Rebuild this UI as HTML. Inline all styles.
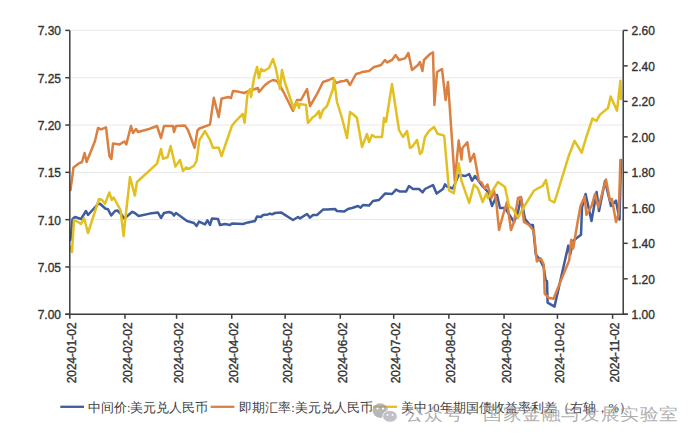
<!DOCTYPE html>
<html><head><meta charset="utf-8"><style>
html,body{margin:0;padding:0;background:#fff;width:700px;height:442px;overflow:hidden}
svg{display:block}
.t{font-family:"Liberation Sans",sans-serif;font-size:12px;fill:#333333;stroke:#333333;stroke-width:0.35}
.d{font-family:"Liberation Sans",sans-serif;font-size:11.9px;fill:#333333;stroke:#333333;stroke-width:0.35}
.lg{font-family:"Liberation Serif",serif;font-size:12.5px;fill:#404040}
.wm{font-family:"Liberation Sans",sans-serif;font-size:17px;fill:#a0a0a0;fill-opacity:0.85}
</style></head><body>
<svg width="700" height="442" viewBox="0 0 700 442">
<line x1="69.8" y1="266.98" x2="623.2" y2="266.98" stroke="#E8E8E8" stroke-width="1"/>
<line x1="69.8" y1="219.67" x2="623.2" y2="219.67" stroke="#E8E8E8" stroke-width="1"/>
<line x1="69.8" y1="172.35" x2="623.2" y2="172.35" stroke="#E8E8E8" stroke-width="1"/>
<line x1="69.8" y1="125.03" x2="623.2" y2="125.03" stroke="#E8E8E8" stroke-width="1"/>
<line x1="69.8" y1="77.72" x2="623.2" y2="77.72" stroke="#E8E8E8" stroke-width="1"/>
<line x1="69.8" y1="30.40" x2="623.2" y2="30.40" stroke="#E8E8E8" stroke-width="1"/>
<polyline points="70.5,240 72.5,219 75,217 81,219 86,211 88,215 98,204 100,203.7 105.6,208.7 108,209.3 111.2,215.5 115,211 117.4,210.5 121,214 124.3,218.6 132.3,211.8 134.8,213 138.6,216 149.7,213.6 158,212.6 161,218 164,213 169,212 172,213 174,215.6 176,213 187,221 194,223 196.6,226 199,221.6 205,224.4 207.4,220.4 210,225 212,218.4 218,219 220,225 225,224 230,225 232,223.6 243,224 248,222.4 255,221 257,216.4 261,217 263,215 268,214.4 270,213.6 272,214.4 275,213 281,212.4 293,220 298,217 300,218.4 307,214 310,217.6 313,215 317,215 323,209.6 327,209.4 335,209 337,211 344,211.6 348,209 352,208 358,206 360.6,207.6 363,205 369,205.6 373,201 379,200 385,193.6 392,194 396,189.6 400,191.6 406,191.6 409,186 413,189 419,189 422.6,192.4 425,189 433,185 436.6,193.6 443,189 445,184.4 447,186.5 452.9,188.5 458.7,175 465.4,176 469.2,174 472,180.8 475,176 482.7,186.5 488,192 492,206 497,195 500,208 505,208 514,222 518,212 521,198 525,219 530,225 532.9,225 535.8,254.5 539.7,259.4 543.7,267.3 545.6,280 547,281 547.6,302.7 554.5,306.6 568.3,245.6 570.2,254.5 573.2,240.7 581,234.8 582,207.5 585.6,194 591.5,221 596.6,192 599,211 605,181 611,206 616,200.7 619.5,219.4 621,160" fill="none" stroke="#3F5C9C" stroke-width="2.5" stroke-linejoin="round" stroke-linecap="round"/>
<polyline points="70.5,190 73.5,167.4 78.4,163.7 82,162 84.6,153 86.6,162 95,141 98,128 101,129.4 106,127.4 109.4,156 111.4,159 113,143.5 119.6,144.4 124.4,141.5 126.3,144.4 131,126 133,133 136,129 138,132 149,129 157,126 161,138 164,126 173,126 174,132 176,126 185,125.6 188,130 194.6,147.7 197.5,130.4 199.4,128.5 210,124.6 213.8,97.7 218.7,117 221.5,98.7 228,97 231,98 233,91 238,91.6 244,93 249,91 255,89 258,88 259,92 265,85 269,82 273,80 277,81 283,91 293,111 297,100 301,100 307,89 310,106 313,101 317,94 323,82 329,80 333,78 336,83 340,81.6 344,81 347,80 350,85 356,74 360,73 362,72 369,71 374,67 378,66 381,65 385,60 387,62.4 392,60 395.6,55 399,60 405,58.4 408.4,53 412,70 418,65 420,62 422.4,71 424,60 430,54 433,52.4 434.4,105 437,72 442,69 445.6,100 448,82 454.8,180.8 458.7,140.4 461.5,159.6 462.5,148 467.3,142.3 470.2,161.5 474,153.8 478.8,180.8 481.7,182.7 484.6,188.5 487.5,184.6 491.3,198 494,191 496,199 499,230 503,215 507,202 511,230 514,222 518,198 521,197 524,222 529,225 533.8,231 536.8,261.4 540.7,258.4 543.7,264.3 544.7,293.8 548.6,297.7 553.5,298.7 564.3,272.2 569.2,260.4 571.2,239.7 573.2,248.6 577.1,225 580.5,206 584.7,196.5 586.4,215 591.5,206 595,194 598.3,207.5 606,179.5 610,200.7 612,199 616,222 618.7,214 620.4,160" fill="none" stroke="#DB8040" stroke-width="2.5" stroke-linejoin="round" stroke-linecap="round"/>
<polyline points="70.5,247 72,252 74,220 78,222 81,224 84,218 88,233 99,199 102,200 105,203.7 109.3,192.5 111.8,200 113.7,197.5 120.5,210 123.6,236 125.5,217.4 130,177 134.8,195.6 137,182 157,163.7 161,149 163,158.8 167.7,157 170.6,146 175.4,166.5 180,160 183,171 186,167.5 188.8,168.8 193.7,166 196.5,161 199.4,140 205,131 210,140 213,147.7 218.7,147.7 221.5,156 232,125.6 236,120.8 242.7,114 244.6,122.7 247.5,94 250,89 251,97 254,78 257,67 259,78 261,69 264,71 269,68 273,59 276,69 280,89 282,70 285,83 294,109 297,102 299,108 300,104 306,105 308,123 313,117 315,116 319,111 320,118 323,110 327,106 333,89 334,79 337,102 342,118 347,138 350,112 354,115 357,118 362,147 367,134 369,142 372,135 375,137 382,137 384,118 386,122 392,84 399,130 403,137 407,131 410,148 412,147 417,140 420,154 422,152 425,137 429,131 434,127 437.5,133.7 444.2,135.6 449,190.4 453.8,193.3 458.7,163.5 461.5,180.8 469.2,202.9 474,184.6 477.9,188.5 482.7,202 486.5,193.3 488,198 498,182 505,187 509,206 513,209 518,218 522,210 534,190.7 538,188.3 542.5,186 546,180 549.7,200 554.4,202.5 568.6,156.3 574.6,140.8 581.7,152.7 586,138 592.5,118.5 596.4,121 600,114.6 608,108 610.7,96.4 617,110.7 620.4,80.8 621,99" fill="none" stroke="#E2C022" stroke-width="2.5" stroke-linejoin="round" stroke-linecap="round"/>
<line x1="69.8" y1="30.4" x2="69.8" y2="314.8" stroke="#3C3C3C" stroke-width="1.5"/>
<line x1="623.2" y1="30.4" x2="623.2" y2="314.8" stroke="#3C3C3C" stroke-width="1.5"/>
<line x1="65.3" y1="314.3" x2="627.7" y2="314.3" stroke="#3C3C3C" stroke-width="1.5"/>
<line x1="65.3" y1="314.30" x2="69.8" y2="314.30" stroke="#3C3C3C" stroke-width="1.5"/>
<text x="61" y="319.20" text-anchor="end" class="t">7.00</text>
<line x1="65.3" y1="266.98" x2="69.8" y2="266.98" stroke="#3C3C3C" stroke-width="1.5"/>
<text x="61" y="271.88" text-anchor="end" class="t">7.05</text>
<line x1="65.3" y1="219.67" x2="69.8" y2="219.67" stroke="#3C3C3C" stroke-width="1.5"/>
<text x="61" y="224.57" text-anchor="end" class="t">7.10</text>
<line x1="65.3" y1="172.35" x2="69.8" y2="172.35" stroke="#3C3C3C" stroke-width="1.5"/>
<text x="61" y="177.25" text-anchor="end" class="t">7.15</text>
<line x1="65.3" y1="125.03" x2="69.8" y2="125.03" stroke="#3C3C3C" stroke-width="1.5"/>
<text x="61" y="129.93" text-anchor="end" class="t">7.20</text>
<line x1="65.3" y1="77.72" x2="69.8" y2="77.72" stroke="#3C3C3C" stroke-width="1.5"/>
<text x="61" y="82.62" text-anchor="end" class="t">7.25</text>
<line x1="65.3" y1="30.40" x2="69.8" y2="30.40" stroke="#3C3C3C" stroke-width="1.5"/>
<text x="61" y="35.30" text-anchor="end" class="t">7.30</text>
<line x1="623.2" y1="314.30" x2="627.7" y2="314.30" stroke="#3C3C3C" stroke-width="1.5"/>
<text x="631.5" y="319.20" class="t">1.00</text>
<line x1="623.2" y1="278.81" x2="627.7" y2="278.81" stroke="#3C3C3C" stroke-width="1.5"/>
<text x="631.5" y="283.71" class="t">1.20</text>
<line x1="623.2" y1="243.32" x2="627.7" y2="243.32" stroke="#3C3C3C" stroke-width="1.5"/>
<text x="631.5" y="248.22" class="t">1.40</text>
<line x1="623.2" y1="207.84" x2="627.7" y2="207.84" stroke="#3C3C3C" stroke-width="1.5"/>
<text x="631.5" y="212.74" class="t">1.60</text>
<line x1="623.2" y1="172.35" x2="627.7" y2="172.35" stroke="#3C3C3C" stroke-width="1.5"/>
<text x="631.5" y="177.25" class="t">1.80</text>
<line x1="623.2" y1="136.86" x2="627.7" y2="136.86" stroke="#3C3C3C" stroke-width="1.5"/>
<text x="631.5" y="141.76" class="t">2.00</text>
<line x1="623.2" y1="101.38" x2="627.7" y2="101.38" stroke="#3C3C3C" stroke-width="1.5"/>
<text x="631.5" y="106.28" class="t">2.20</text>
<line x1="623.2" y1="65.89" x2="627.7" y2="65.89" stroke="#3C3C3C" stroke-width="1.5"/>
<text x="631.5" y="70.79" class="t">2.40</text>
<line x1="623.2" y1="30.40" x2="627.7" y2="30.40" stroke="#3C3C3C" stroke-width="1.5"/>
<text x="631.5" y="35.30" class="t">2.60</text>
<line x1="69.80" y1="314.3" x2="69.80" y2="318.8" stroke="#3C3C3C" stroke-width="1.5"/>
<text transform="translate(76.40,322.5) rotate(-90)" text-anchor="end" class="d">2024-01-02</text>
<line x1="124.97" y1="314.3" x2="124.97" y2="318.8" stroke="#3C3C3C" stroke-width="1.5"/>
<text transform="translate(131.57,322.5) rotate(-90)" text-anchor="end" class="d">2024-02-02</text>
<line x1="176.58" y1="314.3" x2="176.58" y2="318.8" stroke="#3C3C3C" stroke-width="1.5"/>
<text transform="translate(183.18,322.5) rotate(-90)" text-anchor="end" class="d">2024-03-02</text>
<line x1="231.75" y1="314.3" x2="231.75" y2="318.8" stroke="#3C3C3C" stroke-width="1.5"/>
<text transform="translate(238.35,322.5) rotate(-90)" text-anchor="end" class="d">2024-04-02</text>
<line x1="285.14" y1="314.3" x2="285.14" y2="318.8" stroke="#3C3C3C" stroke-width="1.5"/>
<text transform="translate(291.74,322.5) rotate(-90)" text-anchor="end" class="d">2024-05-02</text>
<line x1="340.31" y1="314.3" x2="340.31" y2="318.8" stroke="#3C3C3C" stroke-width="1.5"/>
<text transform="translate(346.91,322.5) rotate(-90)" text-anchor="end" class="d">2024-06-02</text>
<line x1="393.70" y1="314.3" x2="393.70" y2="318.8" stroke="#3C3C3C" stroke-width="1.5"/>
<text transform="translate(400.30,322.5) rotate(-90)" text-anchor="end" class="d">2024-07-02</text>
<line x1="448.87" y1="314.3" x2="448.87" y2="318.8" stroke="#3C3C3C" stroke-width="1.5"/>
<text transform="translate(455.47,322.5) rotate(-90)" text-anchor="end" class="d">2024-08-02</text>
<line x1="504.04" y1="314.3" x2="504.04" y2="318.8" stroke="#3C3C3C" stroke-width="1.5"/>
<text transform="translate(510.64,322.5) rotate(-90)" text-anchor="end" class="d">2024-09-02</text>
<line x1="557.43" y1="314.3" x2="557.43" y2="318.8" stroke="#3C3C3C" stroke-width="1.5"/>
<text transform="translate(564.03,322.5) rotate(-90)" text-anchor="end" class="d">2024-10-02</text>
<line x1="612.60" y1="314.3" x2="612.60" y2="318.8" stroke="#3C3C3C" stroke-width="1.5"/>
<text transform="translate(619.20,322.5) rotate(-90)" text-anchor="end" class="d">2024-11-02</text>
<line x1="60.3" y1="406.8" x2="84" y2="406.8" stroke="#3F5C9C" stroke-width="2.3"/>
<text x="88" y="412.3" class="lg">中间价:美元兑人民币</text>
<line x1="210.7" y1="406.8" x2="234.4" y2="406.8" stroke="#DB8040" stroke-width="2.3"/>
<text x="239.2" y="412.3" class="lg">即期汇率:美元兑人民币</text>
<text x="401" y="412.3" class="lg">美中10年期国债收益率利差（右轴，%）</text>
<line x1="373" y1="406.8" x2="397" y2="406.8" stroke="#E2C022" stroke-width="2.3"/>
<g opacity="0.72"><ellipse cx="380.2" cy="410.6" rx="7.6" ry="7.3" fill="#9c9c9c"/><ellipse cx="390" cy="416.3" rx="7.3" ry="5.9" fill="#a8a8b4" stroke="#fff" stroke-width="0.8"/><circle cx="377.5" cy="408.5" r="1.1" fill="#fff"/><circle cx="383" cy="408.5" r="1.1" fill="#fff"/><circle cx="387.5" cy="415" r="0.9" fill="#fff"/><circle cx="392.5" cy="415" r="0.9" fill="#fff"/></g>
<g class="wm"><text transform="translate(404.6,420) scale(1.1,1)">公</text><text transform="translate(424.2,420) scale(1.1,1)">众</text><text transform="translate(443.8,420) scale(1.1,1)">号</text><text transform="translate(483.0,420) scale(1.1,1)">国</text><text transform="translate(502.6,420) scale(1.1,1)">家</text><text transform="translate(522.2,420) scale(1.1,1)">金</text><text transform="translate(541.8,420) scale(1.1,1)">融</text><text transform="translate(561.4,420) scale(1.1,1)">与</text><text transform="translate(581.0,420) scale(1.1,1)">发</text><text transform="translate(600.6,420) scale(1.1,1)">展</text><text transform="translate(620.2,420) scale(1.1,1)">实</text><text transform="translate(639.8,420) scale(1.1,1)">验</text><text transform="translate(659.4,420) scale(1.1,1)">室</text></g>
<circle cx="469.8" cy="413.6" r="1.4" fill="#a0a0a0"/>
</svg>
</body></html>
